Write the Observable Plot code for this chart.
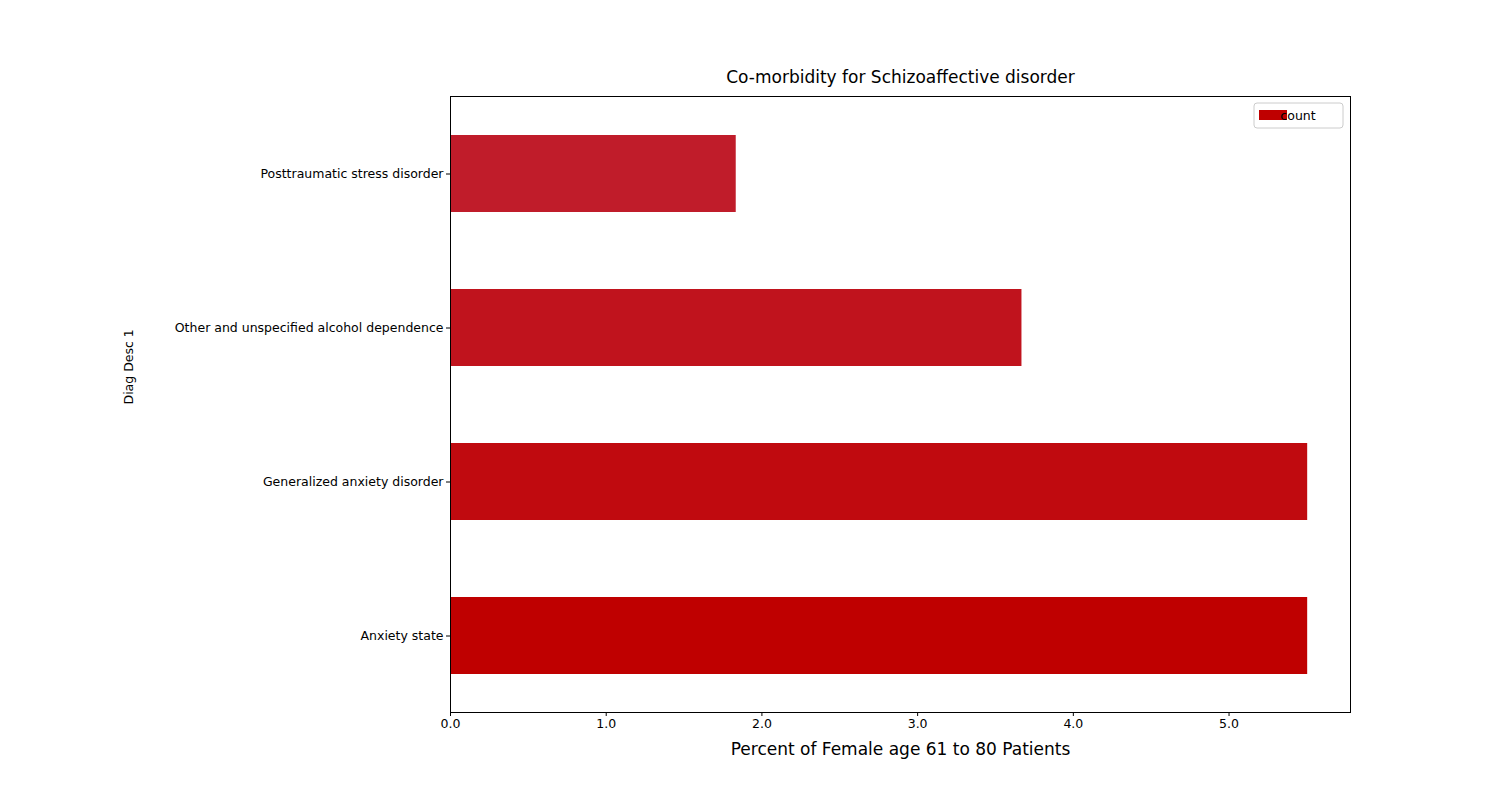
<!DOCTYPE html>
<html><head>
<script src="https://cdn.jsdelivr.net/npm/d3@7"></script>
<script src="https://cdn.jsdelivr.net/npm/@observablehq/plot@0.6"></script>
<style>body{margin:0;background:#fff;font-family:"DejaVu Sans",sans-serif}</style>
</head><body><div id="c"></div>
<script>
const categories = ["Anxiety state","Generalized anxiety disorder","Other and unspecified alcohol dependence","Posttraumatic stress disorder"];
const values = [5.505, 5.505, 3.67, 1.835];
const colors = ["#bf0000","#c00a0f","#c0131d","#c01c2a"];
const xTicks = [0,1,2,3,4,5];
const data = categories.map((c,i)=>({c, v:values[i], col:colors[i]}));
const plot = Plot.plot({
  width:1500, height:800,
  marginLeft:450, marginRight:150, marginTop:96, marginBottom:88,
  style:{fontFamily:"DejaVu Sans", fontSize:"12.5px", color:"#000"},
  x:{domain:[0,5.78], ticks:xTicks, tickSize:4, label:null},
  y:{domain:categories.slice().reverse(), paddingInner:0.5, paddingOuter:0.25, tickSize:4, label:null},
  marks:[
    Plot.barX(data,{x:"v", y:"c", fill:"col"}),
    Plot.frame({stroke:"#000"}),
    Plot.axisX({ticks:xTicks, tickSize:4, tickPadding:3, label:null, fontSize:12.5}),
    Plot.axisY({tickSize:4, tickPadding:3, label:null, fontSize:12.5}),
    Plot.text(["Co-morbidity for Schizoaffective disorder"],{frameAnchor:"top", dy:-14, fontSize:17, lineAnchor:"bottom"}),
    Plot.text(["Percent of Female age 61 to 80 Patients"],{frameAnchor:"bottom", dy:37, fontSize:17, lineAnchor:"middle"}),
    Plot.text(["Diag Desc 1"],{frameAnchor:"left", dx:-322, rotate:-90, fontSize:12.5}),
    Plot.rect([0],{x1:()=>5.28,x2:()=>5.78,y1:()=>categories[3],y2:()=>categories[3],dy:0,fill:"none"}),
  ]
});
document.getElementById("c").appendChild(plot);
// legend inside plot, top-right
const svg = d3.select(plot);
const g = svg.append("g").attr("transform","translate(1254,103)");
g.append("rect").attr("width",89).attr("height",25).attr("rx",3).attr("fill","#fff").attr("stroke","#ccc");
g.append("rect").attr("x",5).attr("y",7).attr("width",28).attr("height",10).attr("fill",colors[0]);
g.append("text").attr("x",44).attr("y",17).attr("font-size",12.5).attr("font-family","DejaVu Sans").text("count");
</script></body></html>
